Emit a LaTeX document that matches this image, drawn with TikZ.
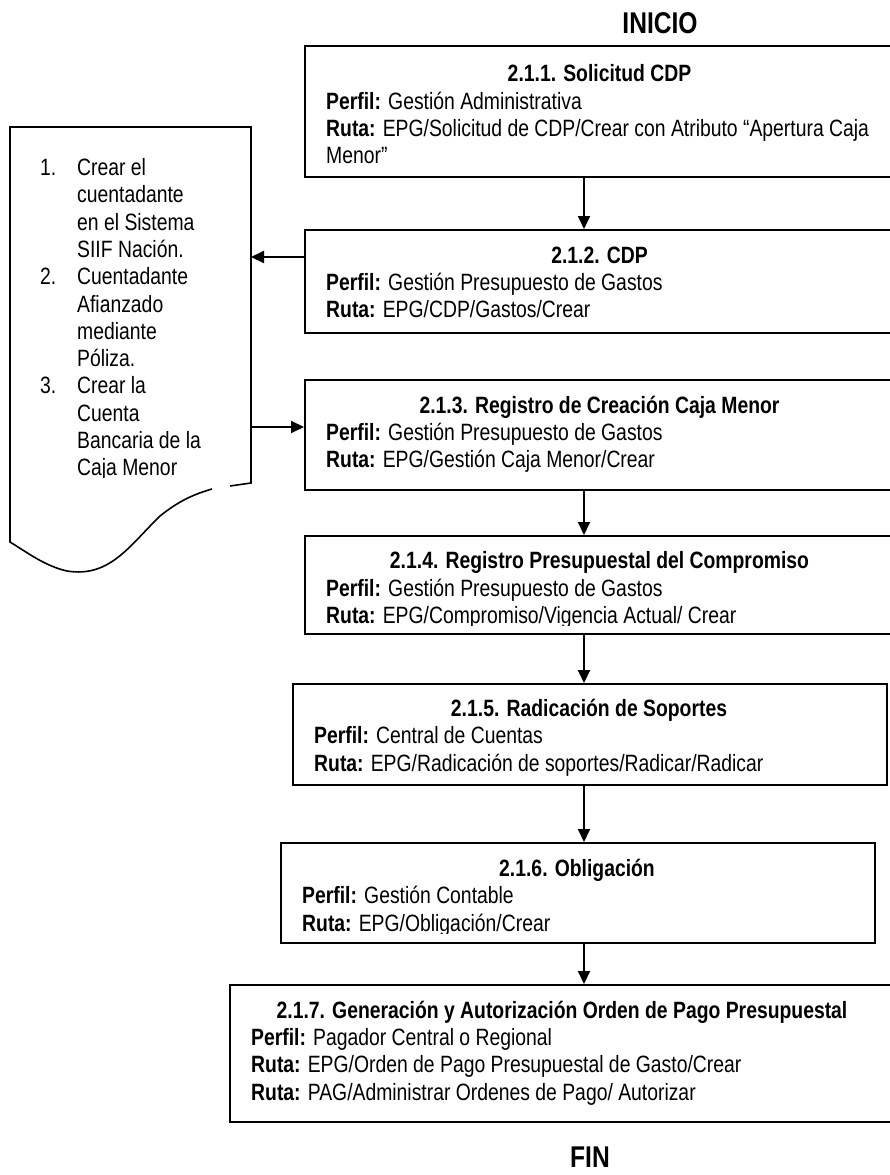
\documentclass[tikz,border=0pt]{standalone}
\usepackage{fontspec}
\setmainfont{Liberation Sans}[FakeStretch=0.82]
\usetikzlibrary{arrows.meta}
\newcommand\bodyfont{\fontsize{23.6}{27.1}\selectfont}
\newcommand\bigfont{\fontsize{30}{34}\selectfont\bfseries}
\begin{document}
\begin{tikzpicture}[x=1pt,y=-1pt,
  box/.style={draw=black,line width=1.7pt,inner sep=0pt,anchor=north west,fill=none},
  txt/.style={inner sep=0pt,font=\bodyfont,anchor=base west},
  ttl/.style={inner sep=0pt,font=\bodyfont\bfseries,anchor=base},
  lbl/.style={inner sep=0pt,font=\bigfont,anchor=base},
  arr/.style={line width=2pt,-{Triangle[length=13pt,width=12pt]}},
  docline/.style={line width=1.6pt,line join=miter}]
\useasboundingbox (0,0) rectangle (889,1175);

% titles
\node[lbl] (inicio) at (660,33) {INICIO};
\node[lbl] (fin) at (590,1167) {FIN};

% boxes
\node[box,minimum width=591,minimum height=131] (b1) at (304,45) {};
\node[box,minimum width=591,minimum height=103] (b2) at (304,229) {};
\node[box,minimum width=591,minimum height=110] (b3) at (304,379) {};
\node[box,minimum width=591,minimum height=98] (b4) at (304,535) {};
\node[box,minimum width=594,minimum height=101] (b5) at (292,683) {};
\node[box,minimum width=594,minimum height=100] (b6) at (280,842) {};
\node[box,minimum width=666,minimum height=137] (b7) at (229,984) {};

% box 1
\node[ttl] (t1) at (599.5,81) {2.1.1. Solicitud CDP};
\node[txt] (p1) at (326,109) {\textbf{Perfil:} Gestión Administrativa};
\node[txt] (r1) at (326,136) {\textbf{Ruta:} EPG/Solicitud de CDP/Crear con Atributo “Apertura Caja};
\node[txt] (m1) at (326,163) {Menor”};

% box 2
\node[ttl] (t2) at (599.5,263) {2.1.2. CDP};
\node[txt] (p2) at (326,290.5) {\textbf{Perfil:} Gestión Presupuesto de Gastos};
\node[txt] (r2) at (326,317.5) {\textbf{Ruta:} EPG/CDP/Gastos/Crear};

% box 3
\node[ttl] (t3) at (599.5,413.5) {2.1.3. Registro de Creación Caja Menor};
\node[txt] (p3) at (326,440.5) {\textbf{Perfil:} Gestión Presupuesto de Gastos};
\node[txt] (r3) at (326,467) {\textbf{Ruta:} EPG/Gestión Caja Menor/Crear};

% box 4
\node[ttl] (t4) at (599.5,568.5) {2.1.4. Registro Presupuestal del Compromiso};
\node[txt] (p4) at (326,596) {\textbf{Perfil:} Gestión Presupuesto de Gastos};
\begin{scope}
\clip (300,600) rectangle (895,625);
\node[txt] (r4) at (326,623.5) {\textbf{Ruta:} EPG/Compromiso/Vigencia Actual/ Crear};
\end{scope}

% box 5
\node[ttl] (t5) at (589,716.5) {2.1.5. Radicación de Soportes};
\node[txt] (p5) at (314,743.5) {\textbf{Perfil:} Central de Cuentas};
\node[txt] (r5) at (314,771.5) {\textbf{Ruta:} EPG/Radicación de soportes/Radicar/Radicar};

% box 6
\node[ttl] (t6) at (577,876.5) {2.1.6. Obligación};
\node[txt] (p6) at (302,903.5) {\textbf{Perfil:} Gestión Contable};
\begin{scope}
\clip (290,908) rectangle (870,933);
\node[txt] (r6) at (302,931) {\textbf{Ruta:} EPG/Obligación/Crear};
\end{scope}

% box 7
\node[ttl] (t7) at (562,1018.5) {2.1.7. Generación y Autorización Orden de Pago Presupuestal};
\node[txt] (p7) at (251,1045.5) {\textbf{Perfil:} Pagador Central o Regional};
\node[txt] (r7) at (251,1072.5) {\textbf{Ruta:} EPG/Orden de Pago Presupuestal de Gasto/Crear};
\node[txt] (s7) at (251,1100.5) {\textbf{Ruta:} PAG/Administrar Ordenes de Pago/ Autorizar};

% document shape
\draw[docline] (230,486) -- (251,483) -- (251,127) -- (10,127) -- (10,542)
  .. controls (28,553) and (45,566) .. (67,571)
  .. controls (110,578) and (130,545) .. (160,516)
  .. controls (180,500) and (195,494) .. (212,489);
\coordinate (docA) at (251,257);
\coordinate (docB) at (251,427);

% list text
\node[txt] (n1) at (40,175.5) {1.};
\node[txt] (l1a) at (77,175.5) {Crear el};
\node[txt] (l1b) at (77,202.8) {cuentadante};
\node[txt] (l1c) at (77,230.1) {en el Sistema};
\node[txt] (l1d) at (77,257.4) {SIIF Nación.};
\node[txt] (n2) at (40,284.7) {2.};
\node[txt] (l2a) at (77,284.7) {Cuentadante};
\node[txt] (l2b) at (77,312) {Afianzado};
\node[txt] (l2c) at (77,339.3) {mediante};
\node[txt] (l2d) at (77,366.6) {Póliza.};
\node[txt] (n3) at (40,393.9) {3.};
\node[txt] (l3a) at (77,393.9) {Crear la};
\node[txt] (l3b) at (77,421.2) {Cuenta};
\node[txt] (l3c) at (77,448.5) {Bancaria de la};
\begin{scope}
\clip (20,455) rectangle (245,477.5);
\node[txt] (l3d) at (77,475.8) {Caja Menor};
\end{scope}

% connectors
\coordinate (ax) at (584,0);
\draw[arr] (b1.south -| ax) -- (b2.north -| ax);
\draw[arr] (b3.south -| ax) -- (b4.north -| ax);
\draw[arr] (b4.south -| ax) -- (b5.north -| ax);
\draw[arr] (b5.south -| ax) -- (b6.north -| ax);
\draw[arr] (b6.south -| ax) -- (b7.north -| ax);
\draw[arr] ([yshift=-28pt]b2.north west) -- (docA);
\draw[arr] (docB) -- ([yshift=-48pt]b3.north west);
\end{tikzpicture}
\end{document}
